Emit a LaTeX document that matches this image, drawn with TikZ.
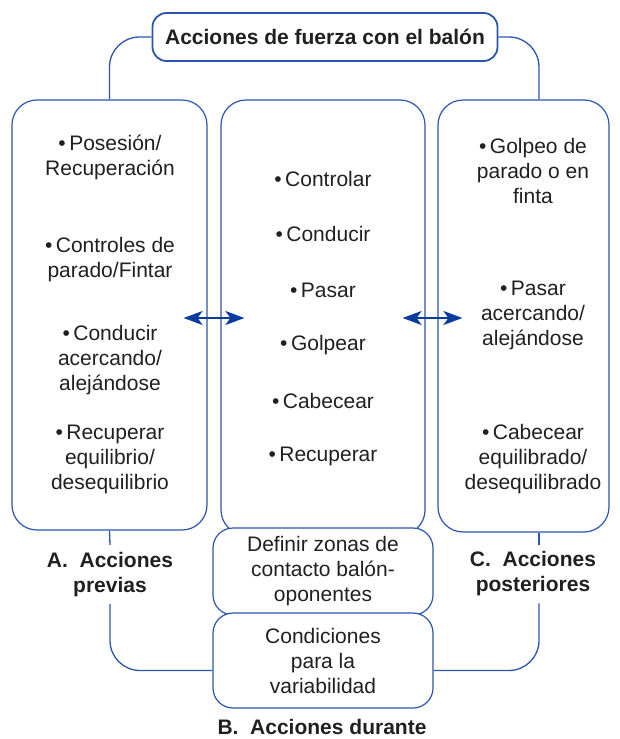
\documentclass[tikz,border=0pt]{standalone}
\usepackage{fontspec}
\setmainfont{Liberation Sans}
\usepackage{tikz}
\usetikzlibrary{arrows.meta,positioning,calc}
\definecolor{frame}{HTML}{2A56B0}
\definecolor{arrowblue}{HTML}{0A3B9F}
\definecolor{ink}{HTML}{231F20}

\begin{document}
\begin{tikzpicture}[
  x=1pt, y=-1pt,
  font=\fontsize{21}{25}\selectfont, text=ink,
  >={Stealth[length=19pt,width=14pt,inset=5pt]},
  box/.style={draw=frame, line width=1.2pt, rounded corners=25pt, fill=white},
  mini/.style={box, rounded corners=20pt, align=center, inner sep=0pt, minimum width=220pt},
  item/.style={align=center, inner sep=0pt},
  phase/.style={align=center, font=\fontsize{21}{25}\selectfont\bfseries, inner sep=7pt},
  conn/.style={draw=frame, line width=1.3pt, rounded corners=30pt},
  dbl/.style={<->, draw=arrowblue, line width=2pt}
]
\useasboundingbox (0,0) rectangle (619,739);

% Header
\node[box, rounded corners=14pt, line width=1.8pt, minimum width=345pt, minimum height=48pt,
  font=\fontsize{21}{25}\selectfont\bfseries] (title) at (325,37) {Acciones de fuerza con el balón};

% Columns
\node[box, minimum width=195pt, minimum height=430pt] (prev) at (109.5,315) {};
\node[box, minimum width=204pt, minimum height=435pt] (mid)  at (323,317.5) {};
\node[box, minimum width=171pt, minimum height=432pt] (post) at (523.5,316) {};

% Center bottom boxes
\node[mini, minimum height=87pt] (zones) at (323,571.5) {Definir zonas de\\contacto balón-\\oponentes};
\node[mini, minimum height=95pt] (cond)  at (323,660.5) {Condiciones\\para la\\variabilidad};

% Previous actions
\node[item] (p1) at (110,157.5) {•\,Posesión/\\Recuperación};
\node[item] (p2) at (110,259.5) {•\,Controles de\\parado/Fintar};
\node[item] (p3) at (110,360)   {•\,Conducir\\acercando/\\alejándose};
\node[item] (p4) at (110,459)   {•\,Recuperar\\equilibrio/\\desequilibrio};

% During actions
\foreach \y/\t/\n in {179/Controlar/m1, 234/Conducir/m2, 290/Pasar/m3, 345/Golpear/m4, 401/Cabecear/m5, 456/Recuperar/m6}
  \node[item] (\n) at (323,\y) {•\,\t};

% Later actions
\node[item] (q1) at (533,171) {•\,Golpeo de\\parado o en\\finta};
\node[item] (q2) at (533,315) {•\,Pasar\\acercando/\\alejándose};
\node[item] (q3) at (533,459) {•\,Cabecear\\equilibrado/\\desequilibrado};

% Phase labels
\node[phase] (labA) at (110,574.5) {A.\ \ Acciones\\previas};
\node[phase] (labC) at (533,574)   {C.\ \ Acciones\\posteriores};
\node[phase] (labB) at (322,727)   {B.\ \ Acciones durante};
\coordinate (rx) at (539,0);

% Links
\draw[conn] (title.west) -| (prev.north);
\draw[conn] (title.east) -| (post.north -| rx);
\draw[conn] (prev.south) -- (labA.north);
\draw[conn] (labA.south) |- ($(cond.west)+(0,10)$);
\draw[conn] (post.south -| rx) -- (labC.north -| rx);
\draw[conn] (labC.south -| rx) |- ($(cond.east)+(0,10)$);
\draw[dbl] ($(prev.east)+(-24,3)$) -- ($(mid.west)+(24,0.5)$);
\draw[dbl] ($(mid.east)+(-23,0.5)$) -- ($(post.west)+(25,2)$);
\end{tikzpicture}
\end{document}
